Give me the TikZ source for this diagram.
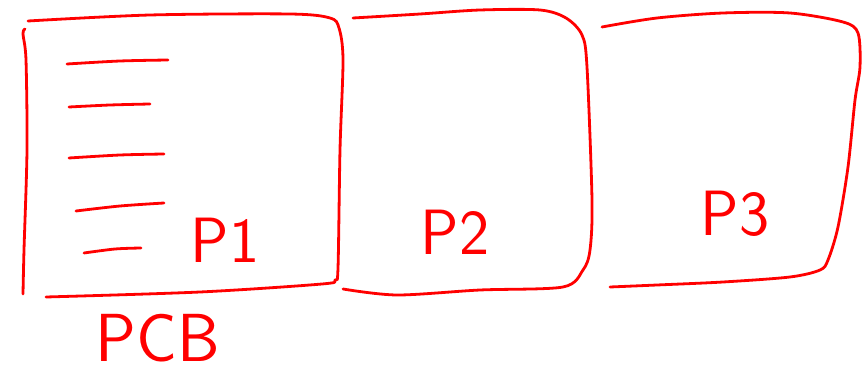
\documentclass[tikz,border=0pt]{standalone}
\usepackage{tikz}
\usetikzlibrary{positioning}

\tikzset{
  pen/.style={red, line width=2.8pt, line cap=round, line join=round},
  handlabel/.style={red, font=\sffamily\fontsize{64}{64}\selectfont, inner sep=0pt},
}

\begin{document}
\begin{tikzpicture}[x=1pt, y=-1pt]
  \useasboundingbox (0,0) rectangle (863,374);
  % First panel (left side, then top, right and bottom in one stroke)
  \draw[pen] plot[smooth] coordinates {(25,29) (23,34) (26,60) (27,150) (24,250) (23,294)};
  \draw[pen] plot[smooth] coordinates {(28,21) (150,15) (290,14) (330,18) (339,28) (343,60)
    (340,150) (338,268) (335,280) (322,284) (200,292) (46,297)};
  % Traces on the board
  \draw[pen] plot[smooth] coordinates {(67,64) (120,61) (168,60)};
  \draw[pen] plot[smooth] coordinates {(69,107) (110,105) (150,104)};
  \draw[pen] plot[smooth] coordinates {(69,158) (120,155) (164,154)};
  \draw[pen] plot[smooth] coordinates {(76,211) (120,206) (164,203)};
  \draw[pen] plot[smooth] coordinates {(84,253) (115,249) (141,248)};

  % Second panel (shares the left edge)
  \draw[pen] plot[smooth] coordinates {(353,18) (420,14) (480,10) (540,10) (566,18) (582,35)
    (587,67) (592,200) (590,250) (583,270) (563,287) (480,290) (397,295) (343,289)};

  % Third panel (shares the left edge)
  \draw[pen] plot[smooth] coordinates {(602,27) (657,18) (723,13) (790,13) (843,22) (858,33)
    (860,67) (855,100) (848,167) (838,227) (828,260) (820,270) (790,277) (723,282)
    (657,285) (610,287)};

  % Labels
  \node[handlabel] (p1) at (225,240) {P1};
  \node[handlabel] (p2) at (455,232) {P2};
  \node[handlabel] (p3) at (735,214) {P3};
  \node[handlabel, font=\sffamily\fontsize{68}{68}\selectfont] (pcb) at (158,338) {PCB};
\end{tikzpicture}
\end{document}
